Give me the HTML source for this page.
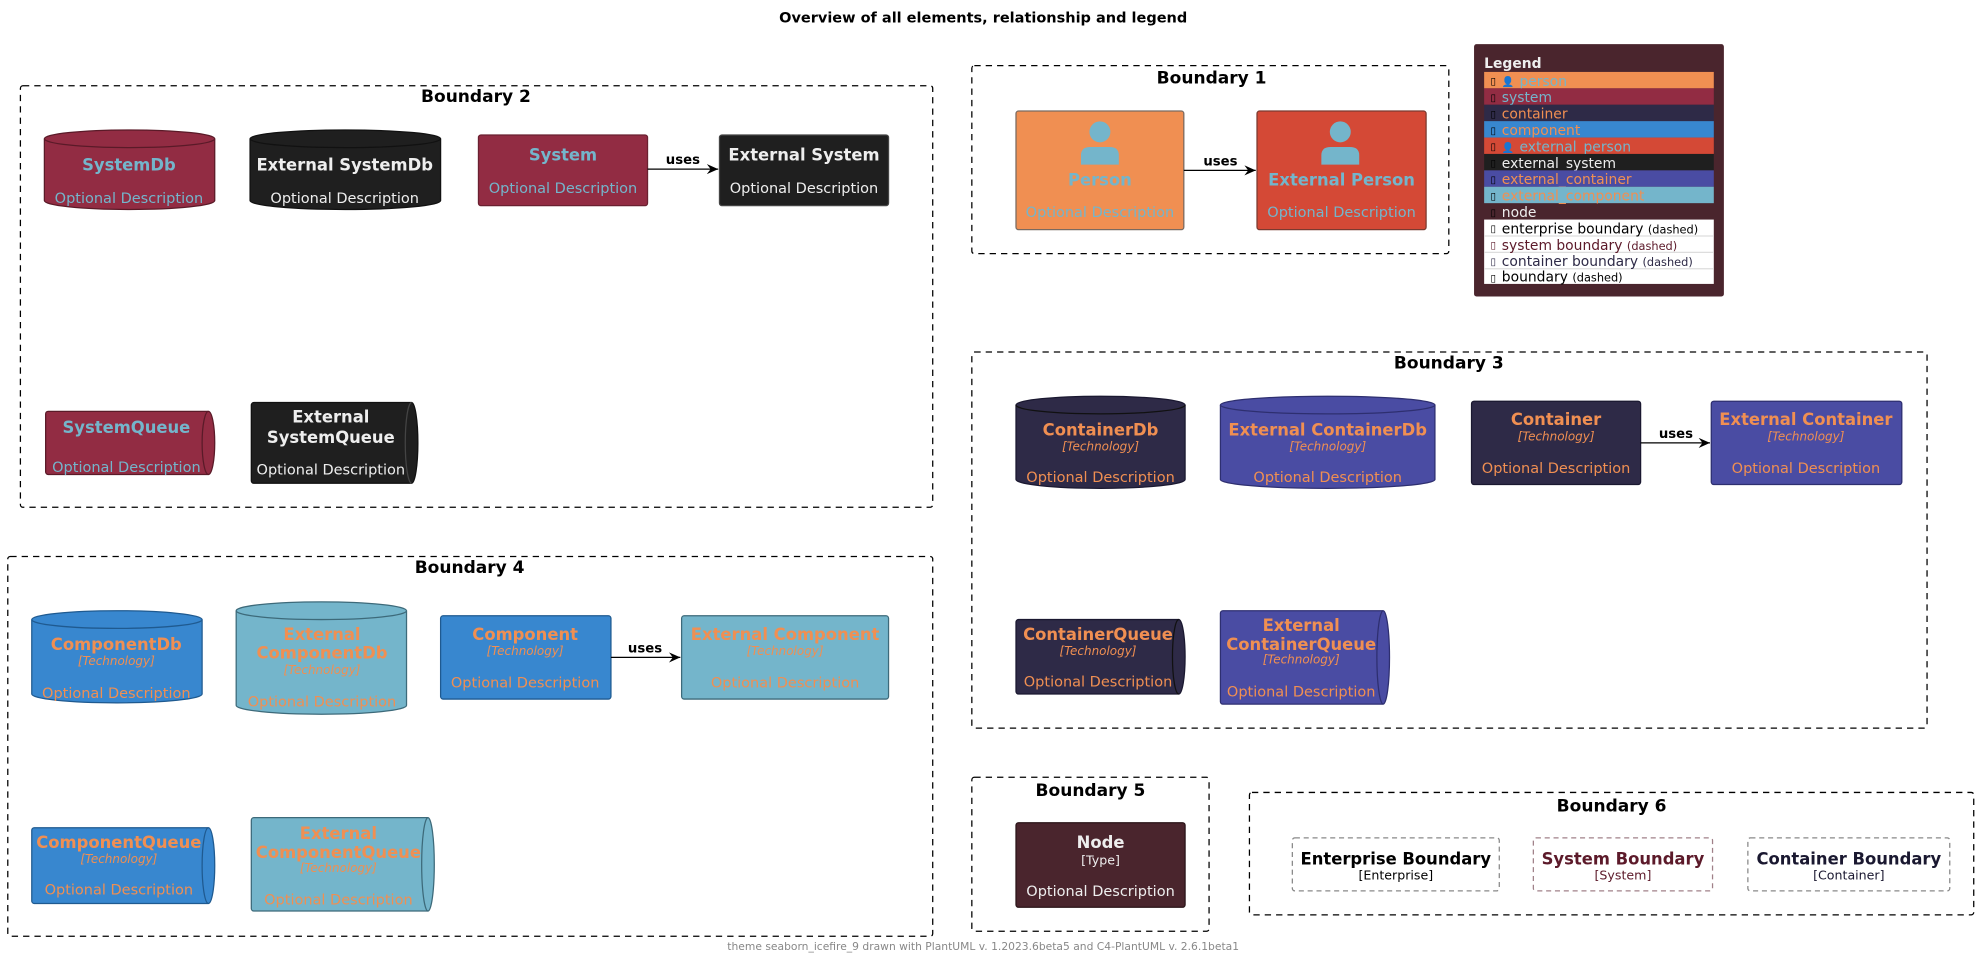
<!DOCTYPE html>
<html><head><meta charset="utf-8"><style>
html,body{margin:0;padding:0;background:#fff;}
svg{display:block;}
text{font-family:"DejaVu Sans","Liberation Sans",sans-serif;}
.b{font-weight:bold;}
</style></head><body>
<svg width="1979" height="959" viewBox="0 0 1568 760" xmlns="http://www.w3.org/2000/svg">
<defs><marker id="ar" markerWidth="10" markerHeight="8" refX="9" refY="4" orient="auto" markerUnits="userSpaceOnUse"><path d="M0,0 L9,4 L0,8 L3,4 Z" fill="#000"/></marker></defs>
<rect width="1568" height="760" fill="#fff"/>
<text x="779" y="18" text-anchor="middle" font-size="11.5" class="b">Overview of all elements, relationship and legend</text>

<g fill="none" stroke="#000" stroke-dasharray="5,4" stroke-width="1">
<rect x="16" y="68" width="723" height="334" rx="2"/>
<rect x="770" y="52" width="378" height="149" rx="2"/>
<rect x="770" y="279" width="757" height="298" rx="2"/>
<rect x="6" y="441" width="733" height="301" rx="2"/>
<rect x="770" y="616" width="188" height="122" rx="2"/>
<rect x="990" y="628" width="574" height="97" rx="2"/>
</g>
<g font-size="13.5" class="b" text-anchor="middle">
<text x="377" y="81">Boundary 2</text>
<text x="960" y="66">Boundary 1</text>
<text x="1148" y="292">Boundary 3</text>
<text x="372" y="454">Boundary 4</text>
<text x="864" y="631">Boundary 5</text>
<text x="1277" y="643">Boundary 6</text>
</g>

<!-- Boundary 2 -->
<path d="M35,110 A67.5,7 0 0 1 170,110 V159 A67.5,7 0 0 1 35,159 Z" fill="#922c43" stroke="#5a1a28"/>
<path d="M35,110 A67.5,7 0 0 0 170,110" fill="none" stroke="#5a1a28"/>
<text x="102" y="135" text-anchor="middle" font-size="13" class="b" fill="#74b5cb">SystemDb</text>
<text x="102" y="161" text-anchor="middle" font-size="11.5" fill="#74b5cb">Optional Description</text>

<path d="M198,110 A75.5,7 0 0 1 349,110 V159 A75.5,7 0 0 1 198,159 Z" fill="#1f1f1f" stroke="#111"/>
<path d="M198,110 A75.5,7 0 0 0 349,110" fill="none" stroke="#111"/>
<text x="273" y="135" text-anchor="middle" font-size="13" class="b" fill="#eee">External SystemDb</text>
<text x="273" y="161" text-anchor="middle" font-size="11.5" fill="#eee">Optional Description</text>

<rect x="379" y="107" width="134" height="56" rx="2" fill="#922c43" stroke="#6a2030"/>
<text x="446" y="127" text-anchor="middle" font-size="13" class="b" fill="#74b5cb">System</text>
<text x="446" y="153" text-anchor="middle" font-size="11.5" fill="#74b5cb">Optional Description</text>
<rect x="570" y="107" width="134" height="56" rx="2" fill="#1f1f1f" stroke="#444"/>
<text x="637" y="127" text-anchor="middle" font-size="13" class="b" fill="#eee">External System</text>
<text x="637" y="153" text-anchor="middle" font-size="11.5" fill="#eee">Optional Description</text>
<line x1="513" y1="134" x2="569" y2="134" stroke="#000" marker-end="url(#ar)"/>
<text x="541" y="130" text-anchor="middle" font-size="10.5" class="b">uses</text>

<path d="M38,326 H165 A5,25 0 0 1 165,376 H38 A2,2 0 0 1 36,374 V328 A2,2 0 0 1 38,326 Z" fill="#922c43" stroke="#5a1a28"/>
<path d="M165,326 A5,25 0 0 0 165,376" fill="none" stroke="#5a1a28"/>
<text x="100" y="343" text-anchor="middle" font-size="13" class="b" fill="#74b5cb">SystemQueue</text>
<text x="100" y="374" text-anchor="middle" font-size="11.5" fill="#74b5cb">Optional Description</text>

<path d="M201,319 H326 A5,32 0 0 1 326,383 H201 A2,2 0 0 1 199,381 V321 A2,2 0 0 1 201,319 Z" fill="#1f1f1f" stroke="#111"/>
<path d="M326,319 A5,32 0 0 0 326,383" fill="none" stroke="#444"/>
<text x="262" y="335" text-anchor="middle" font-size="13" class="b" fill="#eee">External</text>
<text x="262" y="351" text-anchor="middle" font-size="13" class="b" fill="#eee">SystemQueue</text>
<text x="262" y="376" text-anchor="middle" font-size="11.5" fill="#eee">Optional Description</text>

<!-- Boundary 1 -->
<rect x="805" y="88" width="133" height="94" rx="2" fill="#f08f52" stroke="#7a6a60"/>
<circle cx="871.5" cy="104.5" r="8.3" fill="#74b5cb"/>
<path d="M856.5,130.5 V123 Q856.5,116.5 864,116.5 H879 Q886.5,116.5 886.5,123 V130.5 Z" fill="#74b5cb"/>
<text x="871.5" y="147" text-anchor="middle" font-size="13" class="b" fill="#74b5cb">Person</text>
<text x="871.5" y="172" text-anchor="middle" font-size="11.5" fill="#74b5cb">Optional Description</text>
<rect x="996" y="88" width="134" height="94" rx="2" fill="#d44936" stroke="#7a3a30"/>
<circle cx="1062" cy="104.5" r="8.3" fill="#74b5cb"/>
<path d="M1047,130.5 V123 Q1047,116.5 1054.5,116.5 H1069.5 Q1077,116.5 1077,123 V130.5 Z" fill="#74b5cb"/>
<text x="1063" y="147" text-anchor="middle" font-size="13" class="b" fill="#74b5cb">External Person</text>
<text x="1063" y="172" text-anchor="middle" font-size="11.5" fill="#74b5cb">Optional Description</text>
<line x1="938" y1="135" x2="995" y2="135" stroke="#000" marker-end="url(#ar)"/>
<text x="967" y="131" text-anchor="middle" font-size="10.5" class="b">uses</text>

<!-- Legend -->
<rect x="1168" y="35" width="198" height="200" rx="2" fill="#4a252d"/>
<text x="1176" y="54" font-size="11" class="b" fill="#eee">Legend</text>
<g font-size="11">
<rect x="1176" y="57" width="182" height="13" fill="#f08f52"/>
<text x="1181" y="67" font-size="8" fill="#000">▯</text><text x="1190" y="67.5" font-size="8" fill="#74b5cb">👤</text><text x="1204" y="68" fill="#74b5cb">person</text>
<rect x="1176" y="70" width="182" height="13" fill="#922c43"/>
<text x="1181" y="80" font-size="8" fill="#000">▯</text><text x="1190" y="81" fill="#74b5cb">system</text>
<rect x="1176" y="83" width="182" height="13" fill="#2e2a47"/>
<text x="1181" y="93" font-size="8" fill="#000">▯</text><text x="1190" y="94" fill="#f08f52">container</text>
<rect x="1176" y="96" width="182" height="13" fill="#3887cf"/>
<text x="1181" y="106" font-size="8" fill="#000">▯</text><text x="1190" y="107" fill="#f08f52">component</text>
<rect x="1176" y="109" width="182" height="13" fill="#d44936"/>
<text x="1181" y="119" font-size="8" fill="#000">▯</text><text x="1190" y="119.5" font-size="8" fill="#74b5cb">👤</text><text x="1204" y="120" fill="#74b5cb">external_person</text>
<rect x="1176" y="122" width="182" height="13" fill="#1f1f1f"/>
<text x="1181" y="132" font-size="8" fill="#000">▯</text><text x="1190" y="133" fill="#eee">external_system</text>
<rect x="1176" y="135" width="182" height="13" fill="#4a4ca3"/>
<text x="1181" y="145" font-size="8" fill="#000">▯</text><text x="1190" y="146" fill="#f08f52">external_container</text>
<rect x="1176" y="148" width="182" height="13" fill="#74b5cb"/>
<text x="1181" y="158" font-size="8" fill="#000">▯</text><text x="1190" y="159" fill="#f08f52">external_component</text>
<text x="1181" y="171" font-size="8" fill="#000">▯</text><text x="1190" y="172" fill="#eee">node</text>
<rect x="1176" y="174" width="182" height="51" fill="#fff"/>
<line x1="1176" y1="187" x2="1358" y2="187" stroke="#ddd"/>
<line x1="1176" y1="200" x2="1358" y2="200" stroke="#ddd"/>
<line x1="1176" y1="213" x2="1358" y2="213" stroke="#ddd"/>
<text x="1181" y="184" font-size="8" fill="#000">▯</text><text x="1190" y="185" fill="#000">enterprise boundary <tspan font-size="9">(dashed)</tspan></text>
<text x="1181" y="197" font-size="8" fill="#5c1a2a">▯</text><text x="1190" y="198" fill="#5c1a2a">system boundary <tspan font-size="9">(dashed)</tspan></text>
<text x="1181" y="210" font-size="8" fill="#2e2a47">▯</text><text x="1190" y="211" fill="#2e2a47">container boundary <tspan font-size="9">(dashed)</tspan></text>
<text x="1181" y="223" font-size="8" fill="#000">▯</text><text x="1190" y="223" fill="#000">boundary <tspan font-size="9">(dashed)</tspan></text>
</g>

<!-- Boundary 3 -->
<path d="M805,321 A67,7 0 0 1 939,321 V380 A67,7 0 0 1 805,380 Z" fill="#2e2a47" stroke="#1a1830"/>
<path d="M805,321 A67,7 0 0 0 939,321" fill="none" stroke="#111"/>
<text x="872" y="345" text-anchor="middle" font-size="13" class="b" fill="#f08f52">ContainerDb</text>
<text x="872" y="357" text-anchor="middle" font-size="9.5" font-style="italic" fill="#f08f52">[Technology]</text>
<text x="872" y="382" text-anchor="middle" font-size="11.5" fill="#f08f52">Optional Description</text>
<path d="M967,321 A85,7 0 0 1 1137,321 V380 A85,7 0 0 1 967,380 Z" fill="#4a4ca3" stroke="#2e2f70"/>
<path d="M967,321 A85,7 0 0 0 1137,321" fill="none" stroke="#2e2f70"/>
<text x="1052" y="345" text-anchor="middle" font-size="13" class="b" fill="#f08f52">External ContainerDb</text>
<text x="1052" y="357" text-anchor="middle" font-size="9.5" font-style="italic" fill="#f08f52">[Technology]</text>
<text x="1052" y="382" text-anchor="middle" font-size="11.5" fill="#f08f52">Optional Description</text>
<rect x="1166" y="318" width="134" height="66" rx="2" fill="#2e2a47" stroke="#1a1830"/>
<text x="1233" y="337" text-anchor="middle" font-size="13" class="b" fill="#f08f52">Container</text>
<text x="1233" y="349" text-anchor="middle" font-size="9.5" font-style="italic" fill="#f08f52">[Technology]</text>
<text x="1233" y="375" text-anchor="middle" font-size="11.5" fill="#f08f52">Optional Description</text>
<rect x="1356" y="318" width="151" height="66" rx="2" fill="#4a4ca3" stroke="#2e2f70"/>
<text x="1431" y="337" text-anchor="middle" font-size="13" class="b" fill="#f08f52">External Container</text>
<text x="1431" y="349" text-anchor="middle" font-size="9.5" font-style="italic" fill="#f08f52">[Technology]</text>
<text x="1431" y="375" text-anchor="middle" font-size="11.5" fill="#f08f52">Optional Description</text>
<line x1="1300" y1="351" x2="1355" y2="351" stroke="#000" marker-end="url(#ar)"/>
<text x="1328" y="347" text-anchor="middle" font-size="10.5" class="b">uses</text>

<path d="M807,491 H934 A5,29.5 0 0 1 934,550 H807 A2,2 0 0 1 805,548 V493 A2,2 0 0 1 807,491 Z" fill="#2e2a47" stroke="#1a1830"/>
<path d="M934,491 A5,29.5 0 0 0 934,550" fill="none" stroke="#111"/>
<text x="870" y="507" text-anchor="middle" font-size="13" class="b" fill="#f08f52">ContainerQueue</text>
<text x="870" y="519" text-anchor="middle" font-size="9.5" font-style="italic" fill="#f08f52">[Technology]</text>
<text x="870" y="544" text-anchor="middle" font-size="11.5" fill="#f08f52">Optional Description</text>
<path d="M969,484 H1096 A5,37 0 0 1 1096,558 H969 A2,2 0 0 1 967,556 V486 A2,2 0 0 1 969,484 Z" fill="#4a4ca3" stroke="#2e2f70"/>
<path d="M1096,484 A5,37 0 0 0 1096,558" fill="none" stroke="#2e2f70"/>
<text x="1031" y="500" text-anchor="middle" font-size="13" class="b" fill="#f08f52">External</text>
<text x="1031" y="515" text-anchor="middle" font-size="13" class="b" fill="#f08f52">ContainerQueue</text>
<text x="1031" y="526" text-anchor="middle" font-size="9.5" font-style="italic" fill="#f08f52">[Technology]</text>
<text x="1031" y="552" text-anchor="middle" font-size="11.5" fill="#f08f52">Optional Description</text>

<!-- Boundary 4 -->
<path d="M25,491 A67.5,7 0 0 1 160,491 V550 A67.5,7 0 0 1 25,550 Z" fill="#3887cf" stroke="#1f5a90"/>
<path d="M25,491 A67.5,7 0 0 0 160,491" fill="none" stroke="#1f5a90"/>
<text x="92" y="515" text-anchor="middle" font-size="13" class="b" fill="#f08f52">ComponentDb</text>
<text x="92" y="527" text-anchor="middle" font-size="9.5" font-style="italic" fill="#f08f52">[Technology]</text>
<text x="92" y="553" text-anchor="middle" font-size="11.5" fill="#f08f52">Optional Description</text>
<path d="M187,484 A67.5,7 0 0 1 322,484 V559 A67.5,7 0 0 1 187,559 Z" fill="#74b5cb" stroke="#3d6a7a"/>
<path d="M187,484 A67.5,7 0 0 0 322,484" fill="none" stroke="#3d6a7a"/>
<text x="255" y="507" text-anchor="middle" font-size="13" class="b" fill="#f08f52">External</text>
<text x="255" y="522" text-anchor="middle" font-size="13" class="b" fill="#f08f52">ComponentDb</text>
<text x="255" y="534" text-anchor="middle" font-size="9.5" font-style="italic" fill="#f08f52">[Technology]</text>
<text x="255" y="560" text-anchor="middle" font-size="11.5" fill="#f08f52">Optional Description</text>
<rect x="349" y="488" width="135" height="66" rx="2" fill="#3887cf" stroke="#1f5a90"/>
<text x="416" y="507" text-anchor="middle" font-size="13" class="b" fill="#f08f52">Component</text>
<text x="416" y="519" text-anchor="middle" font-size="9.5" font-style="italic" fill="#f08f52">[Technology]</text>
<text x="416" y="545" text-anchor="middle" font-size="11.5" fill="#f08f52">Optional Description</text>
<rect x="540" y="488" width="164" height="66" rx="2" fill="#74b5cb" stroke="#3d6a7a"/>
<text x="622" y="507" text-anchor="middle" font-size="13" class="b" fill="#f08f52">External Component</text>
<text x="622" y="519" text-anchor="middle" font-size="9.5" font-style="italic" fill="#f08f52">[Technology]</text>
<text x="622" y="545" text-anchor="middle" font-size="11.5" fill="#f08f52">Optional Description</text>
<line x1="484" y1="521" x2="539" y2="521" stroke="#000" marker-end="url(#ar)"/>
<text x="511" y="517" text-anchor="middle" font-size="10.5" class="b">uses</text>

<path d="M27,656 H165 A5,30 0 0 1 165,716 H27 A2,2 0 0 1 25,714 V658 A2,2 0 0 1 27,656 Z" fill="#3887cf" stroke="#1f5a90"/>
<path d="M165,656 A5,30 0 0 0 165,716" fill="none" stroke="#1f5a90"/>
<text x="94" y="672" text-anchor="middle" font-size="13" class="b" fill="#f08f52">ComponentQueue</text>
<text x="94" y="684" text-anchor="middle" font-size="9.5" font-style="italic" fill="#f08f52">[Technology]</text>
<text x="94" y="709" text-anchor="middle" font-size="11.5" fill="#f08f52">Optional Description</text>
<path d="M201,648 H339 A5,37 0 0 1 339,722 H201 A2,2 0 0 1 199,720 V650 A2,2 0 0 1 201,648 Z" fill="#74b5cb" stroke="#3d6a7a"/>
<path d="M339,648 A5,37 0 0 0 339,722" fill="none" stroke="#3d6a7a"/>
<text x="268" y="665" text-anchor="middle" font-size="13" class="b" fill="#f08f52">External</text>
<text x="268" y="680" text-anchor="middle" font-size="13" class="b" fill="#f08f52">ComponentQueue</text>
<text x="268" y="691" text-anchor="middle" font-size="9.5" font-style="italic" fill="#f08f52">[Technology]</text>
<text x="268" y="717" text-anchor="middle" font-size="11.5" fill="#f08f52">Optional Description</text>

<!-- Boundary 5 -->
<rect x="805" y="652" width="134" height="67" rx="2" fill="#4a252d" stroke="#2a1418"/>
<text x="872" y="672" text-anchor="middle" font-size="13" class="b" fill="#eee">Node</text>
<text x="872" y="685" text-anchor="middle" font-size="10" fill="#eee">[Type]</text>
<text x="872" y="710" text-anchor="middle" font-size="11.5" fill="#eee">Optional Description</text>

<!-- Boundary 6 -->
<g fill="none" stroke-dasharray="4,3">
<rect x="1024" y="664" width="164" height="42" rx="2" stroke="#888"/>
<rect x="1215" y="664" width="142" height="42" rx="2" stroke="#a08088"/>
<rect x="1385" y="664" width="160" height="42" rx="2" stroke="#888"/>
</g>
<text x="1106" y="685" text-anchor="middle" font-size="13" class="b" fill="#000">Enterprise Boundary</text>
<text x="1106" y="697" text-anchor="middle" font-size="10" fill="#000">[Enterprise]</text>
<text x="1286" y="685" text-anchor="middle" font-size="13" class="b" fill="#5c1a2a">System Boundary</text>
<text x="1286" y="697" text-anchor="middle" font-size="10" fill="#5c1a2a">[System]</text>
<text x="1465" y="685" text-anchor="middle" font-size="13" class="b" fill="#1a1830">Container Boundary</text>
<text x="1465" y="697" text-anchor="middle" font-size="10" fill="#1a1830">[Container]</text>

<text x="779" y="753" text-anchor="middle" font-size="8.5" fill="#888">theme seaborn_icefire_9 drawn with PlantUML v. 1.2023.6beta5 and C4-PlantUML v. 2.6.1beta1</text>
</svg>
</body></html>
